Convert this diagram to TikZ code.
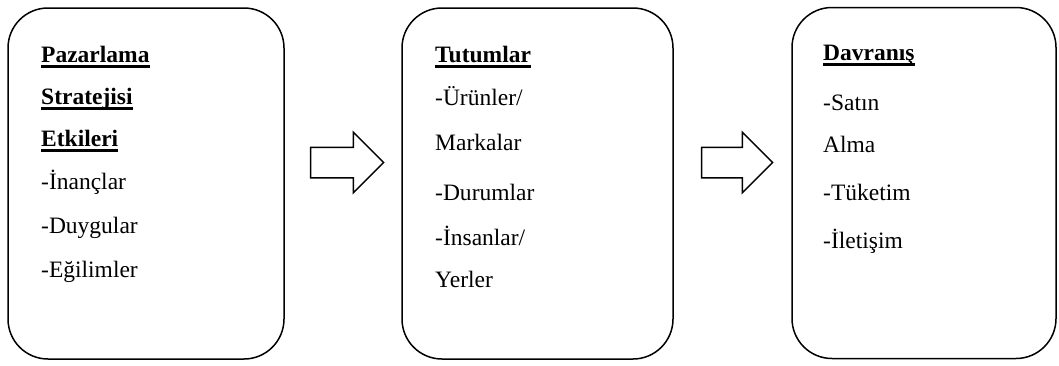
\documentclass[tikz,border=0pt]{standalone}
\usepackage{fontspec}
\setmainfont{Liberation Serif}
\usepackage{tikz}
\usetikzlibrary{shapes.arrows,positioning}

\newcommand{\thickul}[1]{\leavevmode\setbox0=\hbox{#1}\rlap{\rule[-5.5pt]{\wd0}{2.5pt}}\box0}

\tikzset{
  panel/.style={draw, line width=1.5pt, rounded corners=40pt, minimum width=#1, minimum height=351pt, inner sep=0pt},
  flowarrow/.style={draw, line width=1.5pt, single arrow, single arrow head extend=15pt, inner xsep=0pt, inner ysep=14.5pt, minimum height=#1},
  item/.style={anchor=base west, inner sep=0pt, font=\fontsize{23.5}{28}\selectfont},
  head/.style={item, font=\fontsize{23.5}{28}\selectfont\bfseries}
}

\begin{document}
\begin{tikzpicture}[x=1pt, y=-1pt]
  \useasboundingbox (0,0) rectangle (1059,365);

  % Boxes
  \node[panel=276pt] (box1) at (146,183.5) {};
  \node[panel=271pt] (box2) at (537.5,183.5) {};
  \node[panel=264pt] (box3) at (924,183) {};

  % Block arrows
  \node[flowarrow=73pt] (arr1) at (339.5,162.5) {};
  \node[flowarrow=71pt] (arr2) at (729.5,162.5) {};

  % First box
  \node[head] (pazar) at (41,62) {\thickul{Pazarlama}};
  \node[head] (strat) at (41,104) {\thickul{Stratejisi}};
  \node[head] (etki) at (41,146) {\thickul{Etkileri}};
  \node[item] (inanc) at (41,189) {-İnançlar};
  \node[item] (duygu) at (41,233) {-Duygular};
  \node[item] (egilim) at (41,277) {-Eğilimler};

  % Second box
  \node[head] (tutum) at (435,62) {\thickul{Tutumlar}};
  \node[item] (urun) at (435,105) {-Ürünler/};
  \node[item] (marka) at (435,150) {Markalar};
  \node[item] (durum) at (435,200) {-Durumlar};
  \node[item] (insan) at (435,245) {-İnsanlar/};
  \node[item] (yer) at (435,287) {Yerler};

  % Third box
  \node[head] (davran) at (823,60) {\thickul{Davranış}};
  \node[item] (satin) at (823,110) {-Satın};
  \node[item] (alma) at (823,152) {Alma};
  \node[item] (tuket) at (823,200) {-Tüketim};
  \node[item] (ileti) at (823,248) {-İletişim};
\end{tikzpicture}
\end{document}
